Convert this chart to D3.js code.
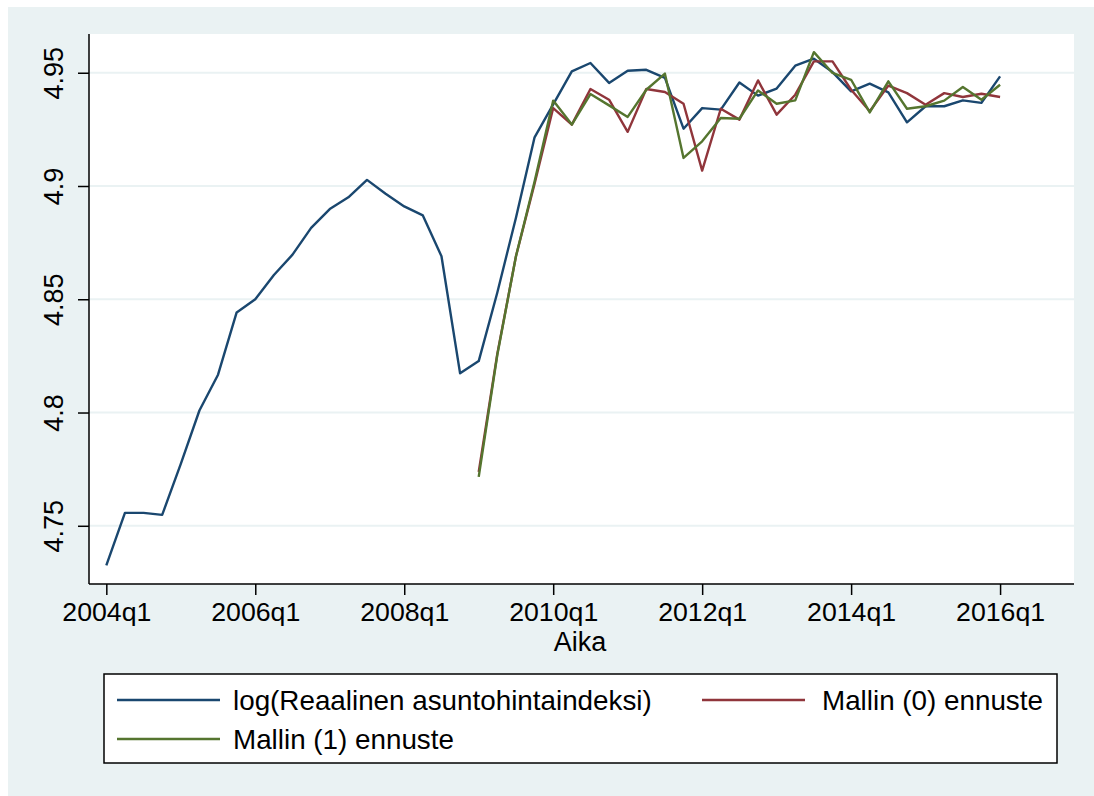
<!DOCTYPE html>
<html>
<head>
<meta charset="utf-8">
<script src="https://cdn.jsdelivr.net/npm/d3@7"></script>
<style>
  body { margin: 0; background: #fff; }
  text { font-family: "Liberation Sans", Arial, sans-serif; fill: #000; }
  .axis path, .axis line { stroke: #000; stroke-width: 1.5; }
  .grid line { stroke: #eaf2f3; stroke-width: 2; }
  .line { fill: none; stroke-width: 2.4; stroke-linejoin: round; }
</style>
</head>
<body>
<svg id="chart" width="1094" height="796"></svg>
<script>
// quarters counted from 2004q1 = 0
const startYear = 2004;
const tickLabels = ['2004q1', '2006q1', '2008q1', '2010q1', '2012q1', '2014q1', '2016q1'];
const yTicks = [4.75, 4.8, 4.85, 4.9, 4.95];

// log(Reaalinen asuntohintaindeksi), 2004q1 - 2016q1
const logIndex = [
  4.7325, 4.7557, 4.7557, 4.7548, 4.7773, 4.8009, 4.8167, 4.8442,
  4.8500, 4.8607, 4.8697, 4.8815, 4.8898, 4.8950, 4.9027, 4.8966,
  4.8910, 4.8870, 4.8690, 4.8173, 4.8227, 4.8530, 4.8860, 4.9215,
  4.9360, 4.9506, 4.9543, 4.9455, 4.9509, 4.9513, 4.9477, 4.9253,
  4.9344, 4.9337, 4.9457, 4.9399, 4.9430, 4.9531, 4.9562, 4.9503,
  4.9418, 4.9452, 4.9413, 4.9281, 4.9352, 4.9352, 4.9378, 4.9367,
  4.9484
];

// forecasts start at 2009q1
const forecastStart = 20;
const model0 = [
  4.7738, 4.8260, 4.8690, 4.9010, 4.9344, 4.9271, 4.9428, 4.9381,
  4.9239, 4.9428, 4.9415, 4.9363, 4.9068, 4.9341, 4.9293, 4.9466,
  4.9315, 4.9403, 4.9550, 4.9550, 4.9425, 4.9330, 4.9443, 4.9410,
  4.9359, 4.9410, 4.9393, 4.9407, 4.9393
];
const model1 = [
  4.7716, 4.8255, 4.8690, 4.9020, 4.9377, 4.9271, 4.9406, 4.9356,
  4.9305, 4.9425, 4.9496, 4.9124, 4.9197, 4.9300, 4.9297, 4.9422,
  4.9363, 4.9378, 4.9591, 4.9499, 4.9469, 4.9325, 4.9462, 4.9341,
  4.9352, 4.9377, 4.9437, 4.9381, 4.9447
];

const seriesNames = ['log(Reaalinen asuntohintaindeksi)', 'Mallin (0) ennuste', 'Mallin (1) ennuste'];
const colors = ['#1a476f', '#90353b', '#55752f'];

function drawChart() {
  const svg = d3.select('#chart');
  const width = 1094, height = 796;
  const margin = {top: 34, right: 20, bottom: 212, left: 89};

  svg.append('rect')
    .attr('x', 8).attr('y', 7)
    .attr('width', width - 8).attr('height', height - 7)
    .attr('fill', '#eaf2f3');

  svg.append('rect')
    .attr('x', margin.left).attr('y', margin.top)
    .attr('width', width - margin.right - margin.left)
    .attr('height', height - margin.bottom - margin.top)
    .attr('fill', '#fff');

  const x = d3.scaleLinear()
    .domain([-0.93, 51.97])
    .range([margin.left, width - margin.right]);

  const y = d3.scaleLinear()
    .domain([4.7243, 4.9671])
    .range([height - margin.bottom, margin.top]);

  const quarterOf = s => (+s.slice(0, 4) - startYear) * 4 + (+s.slice(5) - 1);

  svg.append('g')
    .attr('class', 'grid')
    .selectAll('line')
    .data(yTicks)
    .join('line')
      .attr('x1', margin.left)
      .attr('x2', width - margin.right)
      .attr('y1', d => y(d))
      .attr('y2', d => y(d));

  const yAxis = svg.append('g')
    .attr('class', 'axis')
    .attr('transform', `translate(${margin.left}, 0)`)
    .call(d3.axisLeft(y).tickValues(yTicks).tickFormat(d3.format('')).tickSize(11).tickSizeOuter(0));
  yAxis.select('.domain').attr('d', `M0,${margin.top}V${height - margin.bottom}`);
  yAxis.selectAll('text')
    .attr('font-size', 27)
    .attr('x', 0).attr('dy', 0)
    .attr('text-anchor', 'middle')
    .attr('transform', 'translate(-26, 0) rotate(-90)');

  const xAxis = svg.append('g')
    .attr('class', 'axis')
    .attr('transform', `translate(0, ${height - margin.bottom})`)
    .call(d3.axisBottom(x)
      .tickValues(tickLabels.map(quarterOf))
      .tickFormat((d, i) => tickLabels[i])
      .tickSize(11).tickSizeOuter(0));
  xAxis.select('.domain').attr('d', `M${margin.left},0H${width - margin.right}`);
  xAxis.selectAll('text')
    .attr('font-size', 26.7)
    .attr('y', 37).attr('dy', 0);

  svg.append('text')
    .attr('x', 580)
    .attr('y', 651)
    .attr('font-size', 27)
    .attr('text-anchor', 'middle')
    .text('Aika');

  const series = [
    {name: seriesNames[0], start: 0, values: logIndex},
    {name: seriesNames[1], start: forecastStart, values: model0},
    {name: seriesNames[2], start: forecastStart, values: model1}
  ];

  const line = d3.line()
    .x(d => x(d.q))
    .y(d => y(d.v));

  svg.selectAll('path.line')
      .data(series)
    .join('path')
      .attr('class', 'line')
      .attr('stroke', (d, i) => colors[i])
      .attr('d', d => line(d.values.map((v, i) => ({q: d.start + i, v: v}))));

  // legend
  const legend = svg.append('g');
  legend.append('rect')
    .attr('x', 104).attr('y', 674)
    .attr('width', 953).attr('height', 89)
    .attr('fill', '#fff')
    .attr('stroke', '#000')
    .attr('stroke-width', 1.5);

  const slots = [
    {x: 117, y: 700},
    {x: 702, y: 700},
    {x: 117, y: 739}
  ];
  const items = legend.selectAll('g.item')
      .data(series)
    .join('g')
      .attr('class', 'item')
      .attr('transform', (d, i) => `translate(${slots[i].x}, ${slots[i].y})`);
  items.append('line')
    .attr('x1', 0).attr('x2', 103)
    .attr('stroke', (d, i) => colors[i])
    .attr('stroke-width', 2.4);
  items.append('text')
    .attr('x', (d, i) => i === 1 ? 120 : 116)
    .attr('y', 9.5)
    .attr('font-size', 27.8)
    .text(d => d.name);
}

drawChart();
</script>
</body>
</html>
